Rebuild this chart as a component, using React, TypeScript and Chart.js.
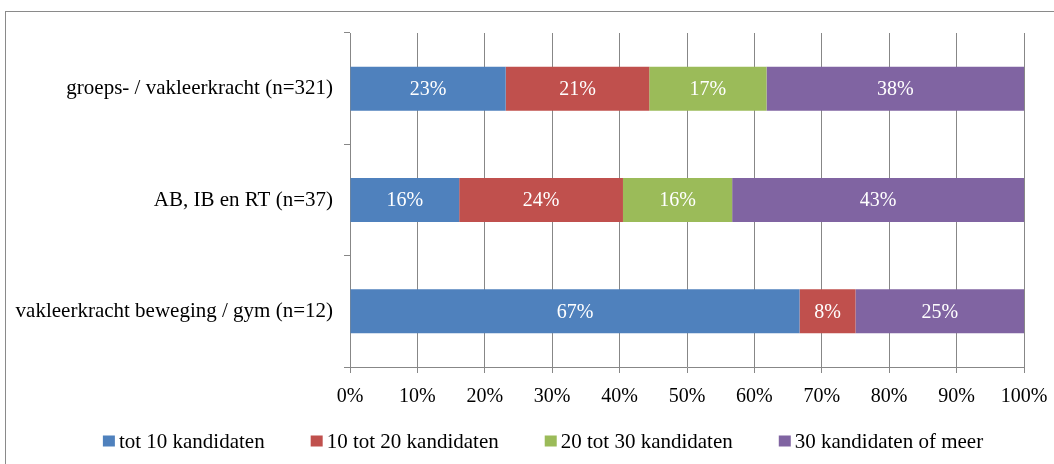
import React, { useEffect, useRef } from "react";
import { Chart, registerables } from "chart.js";

Chart.register(...registerables);

const categories = [
  "groeps- / vakleerkracht (n=321)",
  "AB, IB en RT (n=37)",
  "vakleerkracht beweging / gym (n=12)",
];
const seriesNames = [
  "tot 10 kandidaten",
  "10 tot 20 kandidaten",
  "20 tot 30 kandidaten",
  "30 kandidaten of meer",
];
const tot10 = [23.1, 16.2, 66.7];
const tot20 = [21.3, 24.3, 8.3];
const tot30 = [17.4, 16.2, 0];
const meer30 = [38.2, 43.3, 25.0];
const colors = ["#4F81BD", "#C0504D", "#9BBB59", "#8064A2"];
const xTicks = [0, 10, 20, 30, 40, 50, 60, 70, 80, 90, 100];

const FONT = "'Liberation Serif', 'Times New Roman', serif";
const GRID = "#878787";

const valueLabels = {
  id: "valueLabels",
  afterDatasetsDraw(chart: any) {
    const ctx = chart.ctx;
    ctx.save();
    ctx.fillStyle = "#ffffff";
    ctx.font = `20px ${FONT}`;
    ctx.textAlign = "center";
    ctx.textBaseline = "middle";
    chart.data.datasets.forEach((ds: any, i: number) => {
      const meta = chart.getDatasetMeta(i);
      meta.data.forEach((el: any, j: number) => {
        const v = ds.data[j];
        if (!v) return;
        ctx.fillText(Math.round(v) + "%", (el.x + el.base) / 2, el.y + 1);
      });
    });
    ctx.restore();
  },
};

// Legend drawn on the chart canvas, laid out like the reference (box, small gap, text)
const bottomLegend = {
  id: "bottomLegend",
  afterDraw(chart: any) {
    const ctx = chart.ctx;
    ctx.save();
    ctx.font = `21px ${FONT}`;
    ctx.textBaseline = "middle";
    ctx.textAlign = "left";
    const box = 12;
    const boxH = 11;
    const gap = 4;
    const spacing = 46;
    const items = chart.data.datasets.map((ds: any) => ({
      text: ds.label,
      color: ds.backgroundColor,
      w: ctx.measureText(ds.label).width,
    }));
    const total =
      items.reduce((s: number, it: any) => s + box + gap + it.w, 0) +
      spacing * (items.length - 1);
    const centerX = 543;
    const cy = 442;
    let x = centerX - total / 2;
    items.forEach((it: any) => {
      ctx.fillStyle = it.color;
      ctx.fillRect(x, cy - boxH / 2 - 1, box, boxH);
      ctx.fillStyle = "#000";
      ctx.fillText(it.text, x + box + gap, cy);
      x += box + gap + it.w + spacing;
    });
    ctx.restore();
  },
};

export default function App() {
  const ref = useRef<HTMLCanvasElement | null>(null);
  useEffect(() => {
    document.body.style.margin = "0";
    document.body.style.overflow = "hidden";
    const series = [tot10, tot20, tot30, meer30];
    const chart = new Chart(ref.current as HTMLCanvasElement, {
      type: "bar",
      data: {
        labels: categories,
        datasets: series.map((d, i) => ({
          label: seriesNames[i],
          data: d,
          backgroundColor: colors[i],
          borderWidth: 0,
          barPercentage: 0.395,
          categoryPercentage: 1,
        })),
      },
      options: {
        indexAxis: "y",
        animation: false,
        responsive: false,
        maintainAspectRatio: false,
        devicePixelRatio: 1,
        layout: { padding: { left: 0, right: 30, top: 33, bottom: 55 } },
        plugins: {
          tooltip: { enabled: false },
          legend: { display: false },
        },
        scales: {
          x: {
            stacked: true,
            min: 0,
            max: 100,
            afterBuildTicks(scale: any) {
              scale.ticks = xTicks.map((v) => ({ value: v }));
            },
            afterFit(scale: any) {
              scale.height = 42;
              scale.paddingRight = 0;
              scale.paddingLeft = 0;
            },
            ticks: {
              color: "#000",
              font: { family: FONT, size: 20 },
              padding: 12,
              maxRotation: 0,
              autoSkip: false,
              callback: (v: any) => v + "%",
            },
            grid: { color: GRID, tickLength: 6, lineWidth: 1 },
            border: { color: GRID },
          },
          y: {
            stacked: true,
            afterFit(scale: any) {
              scale.width = 350;
            },
            ticks: {
              color: "#000",
              font: { family: FONT, size: 21 },
              padding: 11,
            },
            grid: { drawOnChartArea: false, color: GRID, tickLength: 6, offset: true },
            border: { color: GRID },
          },
        },
      },
      plugins: [valueLabels, bottomLegend],
    });
    return () => chart.destroy();
  }, []);
  return (
    <div
      style={{
        position: "fixed",
        left: 0,
        top: 0,
        width: 1054,
        height: 464,
        overflow: "hidden",
        background: "#fff",
      }}
    >
      <div
        style={{
          position: "absolute",
          left: 5,
          top: 11,
          width: 1100,
          height: 500,
          borderTop: "1px solid #8a8a8a",
          borderLeft: "1px solid #8a8a8a",
        }}
      />
      <canvas
        ref={ref}
        width={1054}
        height={464}
        style={{ position: "absolute", left: 0, top: 0, width: 1054, height: 464 }}
      />
    </div>
  );
}
